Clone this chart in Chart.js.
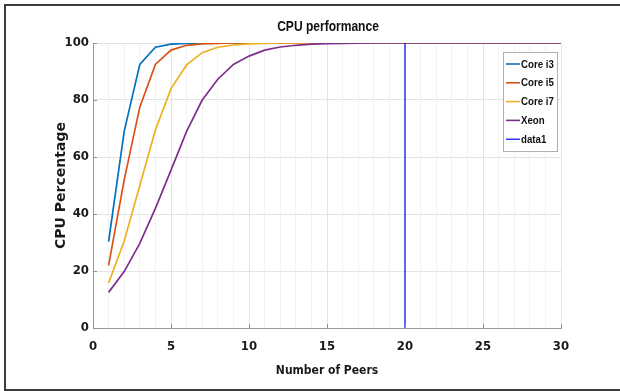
<!DOCTYPE html>
<html>
<head>
<meta charset="utf-8">
<script src="https://cdn.jsdelivr.net/npm/chart.js@4.4.1/dist/chart.umd.min.js"></script>
<style>
  html, body { margin: 0; padding: 0; background: #fff; overflow: hidden; }
  #wrap { position: relative; width: 620px; height: 391px; }
  #frame {
    position: absolute; left: 4px; top: 4px; width: 640px; height: 383px;
    border: 2px solid #3c3c3c; border-right: none; pointer-events: none;
  }
</style>
</head>
<body>
<div id="wrap">
  <canvas id="cpuChart" width="620" height="391"></canvas>
  <div id="frame"></div>
</div>
<script>
// number of peers on the x axis
const peers = [1, 2, 3, 4, 5, 6, 7, 8, 9, 10, 11, 12, 13, 14, 15,
  16, 17, 18, 19, 20, 21, 22, 23, 24, 25, 26, 27, 28, 29, 30];

// CPU percentage per processor
const coreI3 = [30.3, 69, 92.5, 98.5, 99.6, 99.9, 100, 100, 100, 100, 100, 100, 100, 100, 100,
  100, 100, 100, 100, 100, 100, 100, 100, 100, 100, 100, 100, 100, 100, 100];
const coreI5 = [22, 52, 77.5, 92.5, 97.5, 99.2, 99.7, 99.9, 100, 100, 100, 100, 100, 100, 100,
  100, 100, 100, 100, 100, 100, 100, 100, 100, 100, 100, 100, 100, 100, 100];
const coreI7 = [15.8, 30.5, 50, 69.5, 84, 92.3, 96.6, 98.5, 99.3, 99.7, 99.9, 100, 100, 100, 100,
  100, 100, 100, 100, 100, 100, 100, 100, 100, 100, 100, 100, 100, 100, 100];
const xeon = [12.5, 19.8, 29.7, 42, 55.4, 69, 80, 87.3, 92.5, 95.4, 97.5, 98.6, 99.2, 99.6, 99.8,
  99.9, 99.95, 100, 100, 100, 100, 100, 100, 100, 100, 100, 100, 100, 100, 100];

// marker line at 20 peers
const markerX = [20, 20];
const markerY = [0, 100];

const seriesNames = ["Core i3", "Core i5", "Core i7", "Xeon", "data1"];
const seriesColors = ["#0072BD", "#D95319", "#EDB120", "#7E2F8E", "#0000FF"];

const xTickValues = [0, 5, 10, 15, 20, 25, 30];
const yTickValues = [0, 20, 40, 60, 80, 100];

const chartTitle = "CPU performance";
const xTitle = "Number of Peers";
const yTitle = "CPU Percentage";

const narrow = "'DejaVu Sans Condensed', 'Liberation Sans', Arial, sans-serif";
const sans = "'Liberation Sans', Arial, sans-serif";

function toPoints(xs, ys) {
  return xs.map((x, i) => ({ x: x, y: ys[i] }));
}

// squeezed text, Helvetica Narrow style
function narrowText(ctx, text, x, y, squeeze) {
  ctx.save();
  ctx.translate(x, y);
  ctx.scale(squeeze, 1);
  ctx.fillText(text, 0, 0);
  ctx.restore();
}

// title, inward tick marks and the boxed legend inside the axes
const axesDecor = {
  id: "axesDecor",
  afterDraw(chart) {
    const { ctx, chartArea: a, scales } = chart;
    const x = scales.x, y = scales.y;
    ctx.save();

    ctx.strokeStyle = "#8f8f8f";
    ctx.lineWidth = 1;
    xTickValues.forEach((v) => {
      const px = Math.round(x.getPixelForValue(v)) + 0.5;
      ctx.beginPath();
      ctx.moveTo(px, a.bottom);
      ctx.lineTo(px, a.bottom - 4);
      ctx.stroke();
    });
    yTickValues.forEach((v) => {
      const py = Math.round(y.getPixelForValue(v)) + 0.5;
      ctx.beginPath();
      ctx.moveTo(a.left, py);
      ctx.lineTo(a.left + 4, py);
      ctx.stroke();
    });

    ctx.fillStyle = "#111";
    ctx.font = "bold 14px " + sans;
    ctx.textAlign = "center";
    ctx.textBaseline = "middle";
    narrowText(ctx, chartTitle, (a.left + a.right) / 2 + 1, 27, 0.86);

    // legend box
    const bx = 503.5, by = 52.5, bw = 54, bh = 99;
    ctx.fillStyle = "#fff";
    ctx.fillRect(bx, by, bw, bh);
    ctx.strokeStyle = "#b0b0b0";
    ctx.strokeRect(bx, by, bw, bh);
    ctx.font = "bold 11px " + sans;
    ctx.textAlign = "left";
    seriesNames.forEach((name, i) => {
      const ly = 64 + i * 18.8;
      ctx.strokeStyle = seriesColors[i];
      ctx.lineWidth = i === 4 ? 1.2 : 1.6;
      ctx.beginPath();
      ctx.moveTo(506, ly);
      ctx.lineTo(520, ly);
      ctx.stroke();
      ctx.fillStyle = "#111";
      narrowText(ctx, name, 521, ly + 0.5, 0.88);
    });

    ctx.restore();
  },
};

const seriesData = [coreI3, coreI5, coreI7, xeon];

const datasets = seriesData.map((vals, i) => ({
  label: seriesNames[i],
  data: toPoints(peers, vals),
  borderColor: seriesColors[i],
  borderWidth: 1.7,
  pointRadius: 0,
  tension: 0,
  order: 4 - i,
}));
datasets.push({
  label: seriesNames[4],
  data: toPoints(markerX, markerY),
  borderColor: seriesColors[4],
  borderWidth: 1.2,
  pointRadius: 0,
  order: 0,
});

new Chart(document.getElementById("cpuChart"), {
  type: "line",
  data: { datasets: datasets },
  plugins: [axesDecor],
  options: {
    responsive: false,
    animation: false,
    layout: { padding: { top: 43, right: 59, bottom: 0, left: 0 } },
    plugins: {
      legend: { display: false },
      title: { display: false },
      tooltip: { enabled: false },
    },
    scales: {
      x: {
        type: "linear",
        min: 0,
        max: 30,
        afterFit: (scale) => { scale.height = 63; },
        ticks: {
          stepSize: 1,
          autoSkip: false,
          maxRotation: 0,
          padding: 11,
          color: "#1a1a1a",
          font: { family: narrow, size: 13, weight: "bold" },
          callback: (v) => (v % 5 === 0 ? v : ""),
        },
        grid: {
          tickLength: 0,
          lineWidth: 1,
          color: (c) => (c.tick && c.tick.value % 5 === 0 ? "#e4e4e4" : "#f3f3f3"),
        },
        border: { color: "#9a9a9a", width: 1 },
        title: {
          display: true,
          text: xTitle,
          color: "#1a1a1a",
          font: { family: narrow, size: 12, weight: "bold" },
          padding: { top: 0, bottom: 13 },
        },
      },
      y: {
        type: "linear",
        min: 0,
        max: 100,
        afterFit: (scale) => { scale.width = 93; },
        ticks: {
          stepSize: 20,
          padding: 4,
          color: "#1a1a1a",
          font: { family: narrow, size: 13, weight: "bold" },
        },
        grid: { tickLength: 0, lineWidth: 1, color: "#e4e4e4" },
        border: { color: "#9a9a9a", width: 1 },
        title: {
          display: true,
          text: yTitle,
          color: "#1a1a1a",
          font: { family: "'DejaVu Sans', sans-serif", size: 14, weight: "bold" },
          padding: { top: 53, bottom: 0 },
        },
      },
    },
  },
});
</script>
</body>
</html>
